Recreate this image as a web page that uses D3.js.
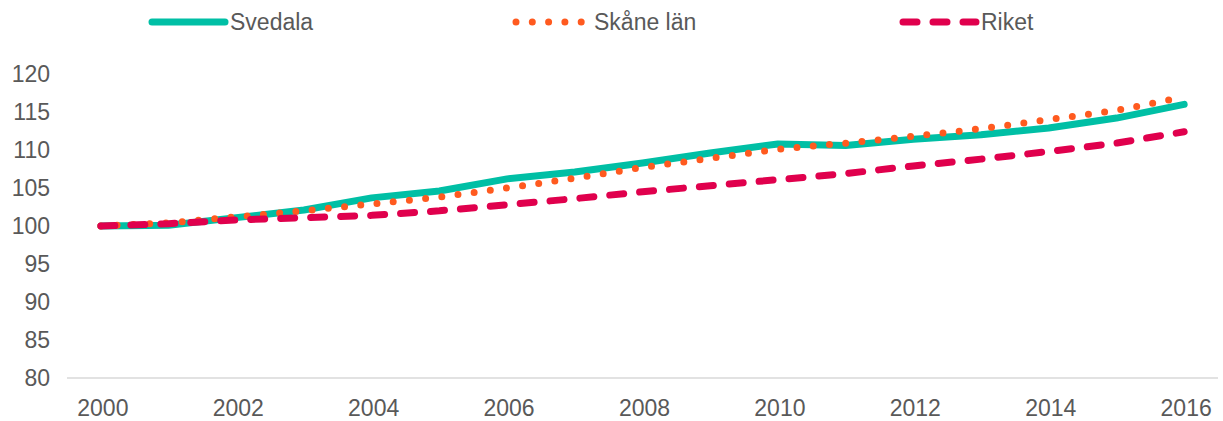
<!DOCTYPE html>
<html>
<head>
<meta charset="utf-8">
<script src="https://cdn.jsdelivr.net/npm/d3@7"></script>
<style>
  body { margin: 0; background: #fff; }
  svg { display: block; font-family: "Liberation Sans", Arial, sans-serif; }
</style>
</head>
<body>
<svg id="chart"></svg>
<script>
const svgWidth = 1223;
const svgHeight = 421;

const years = d3.range(2000, 2017);
const svedala = [100, 100.1, 101.1, 102.1, 103.7, 104.6, 106.2, 107.1, 108.3, 109.6, 110.8, 110.6, 111.4, 112.0, 112.9, 114.2, 116.0];
const skane = [100, 100.4, 101.2, 102.0, 102.9, 103.8, 105.0, 106.3, 107.7, 108.9, 110.1, 110.9, 111.8, 112.8, 114.0, 115.2, 117.0];
const riket = [100, 100.3, 100.8, 101.1, 101.4, 102.0, 102.8, 103.6, 104.5, 105.3, 106.1, 106.9, 107.9, 108.8, 109.8, 110.9, 112.4];
const yTicks = [80, 85, 90, 95, 100, 105, 110, 115, 120];
const xTicks = [2000, 2002, 2004, 2006, 2008, 2010, 2012, 2014, 2016];

const series = [
  { name: "Svedala", values: svedala, color: "#00bfa5", dash: null, width: 7, lx: 152 },
  { name: "Skåne län", values: skane, color: "#ff5a1f", dash: "0,16.3", width: 7, lx: 516 },
  { name: "Riket", values: riket, color: "#e0004d", dash: "14,16", width: 7, lx: 903 }
];

const plotLeft = 67, plotRight = 1218, plotTop = 74, plotBottom = 378;
const fontSize = 23;

const svg = d3.select("#chart")
  .attr("width", svgWidth)
  .attr("height", svgHeight);

// category axis: points sit in band centres
const x = d3.scalePoint()
  .domain(years)
  .range([plotLeft, plotRight])
  .padding(0.5);

const y = d3.scaleLinear()
  .domain([80, 120])
  .range([plotBottom, plotTop]);

// y labels
svg.append("g")
  .selectAll("text")
  .data(yTicks)
  .join("text")
  .attr("x", 50)
  .attr("y", d => y(d))
  .attr("dy", "0.35em")
  .attr("text-anchor", "end")
  .attr("font-size", fontSize)
  .attr("fill", "#595959")
  .text(d => d);

// x axis line
svg.append("line")
  .attr("x1", plotLeft)
  .attr("x2", plotRight)
  .attr("y1", y(80))
  .attr("y2", y(80))
  .attr("stroke", "#d9d9d9")
  .attr("stroke-width", 1.5);

svg.append("g")
  .selectAll("text")
  .data(xTicks)
  .join("text")
  .attr("x", d => x(d) + 2)
  .attr("y", 416)
  .attr("text-anchor", "middle")
  .attr("font-size", fontSize)
  .attr("fill", "#595959")
  .text(d => d);

const line = d3.line()
  .x((d, i) => x(years[i]))
  .y(d => y(d));

series.forEach(s => {
  svg.append("path")
    .attr("d", line(s.values))
    .attr("fill", "none")
    .attr("stroke", s.color)
    .attr("stroke-width", s.width)
    .attr("stroke-linecap", "round")
    .attr("stroke-linejoin", "round")
    .attr("stroke-dasharray", s.dash);

  // legend
  svg.append("line")
    .attr("x1", s.lx)
    .attr("x2", s.lx + 73)
    .attr("y1", 22)
    .attr("y2", 22)
    .attr("stroke", s.color)
    .attr("stroke-width", s.width)
    .attr("stroke-linecap", "round")
    .attr("stroke-dasharray", s.dash);
  svg.append("text")
    .attr("x", s.lx + 78)
    .attr("y", 22)
    .attr("dy", "0.35em")
    .attr("font-size", fontSize)
    .attr("fill", "#595959")
    .text(s.name);
});
</script>
</body>
</html>
